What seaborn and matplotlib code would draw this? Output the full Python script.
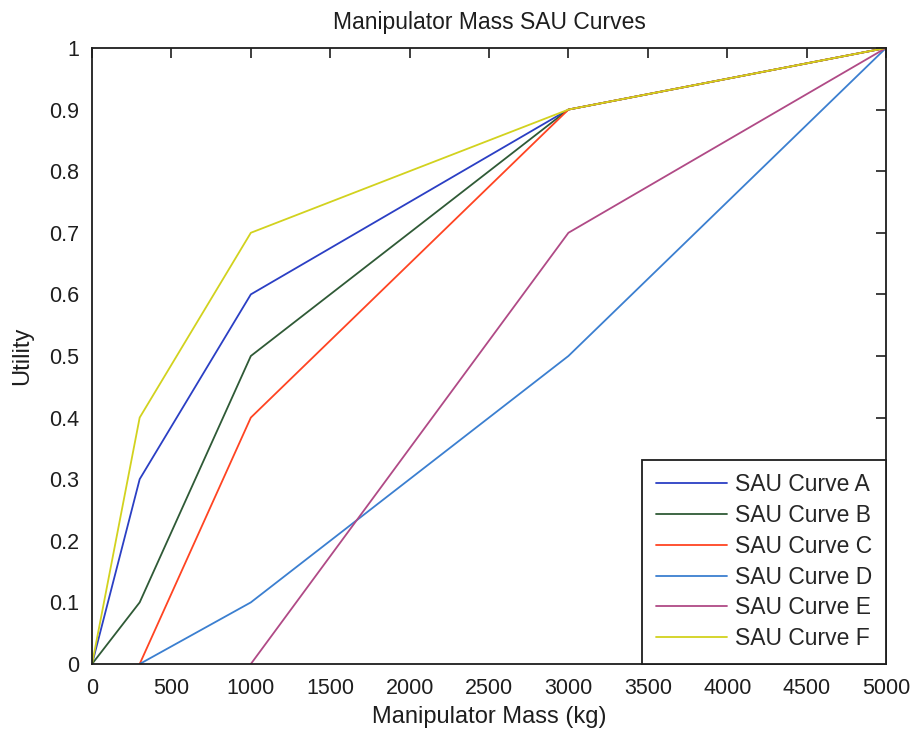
import matplotlib
matplotlib.use("Agg")
import matplotlib.pyplot as plt
import seaborn as sns
import pandas as pd

# Utility curves: breakpoints (mass in kg, utility)
mass_a = [0, 300, 1000, 3000, 5000]
util_a = [0, 0.3, 0.6, 0.9, 1.0]
mass_b = [0, 300, 1000, 3000, 5000]
util_b = [0, 0.1, 0.5, 0.9, 1.0]
mass_c = [300, 1000, 3000, 5000]
util_c = [0, 0.4, 0.9, 1.0]
mass_d = [300, 1000, 3000, 5000]
util_d = [0, 0.1, 0.5, 1.0]
mass_e = [1000, 3000, 5000]
util_e = [0, 0.7, 1.0]
mass_f = [0, 300, 1000, 3000, 5000]
util_f = [0, 0.4, 0.7, 0.9, 1.0]

curve_names = ["SAU Curve A", "SAU Curve B", "SAU Curve C",
               "SAU Curve D", "SAU Curve E", "SAU Curve F"]
curve_colors = ["#2b3fc4", "#2f5a36", "#ff4422", "#3b7fd0", "#b04a86", "#d2d21e"]

x_ticks = [0, 500, 1000, 1500, 2000, 2500, 3000, 3500, 4000, 4500, 5000]
y_ticks = [0, 0.1, 0.2, 0.3, 0.4, 0.5, 0.6, 0.7, 0.8, 0.9, 1]
y_tick_labels = ["0", "0.1", "0.2", "0.3", "0.4", "0.5", "0.6", "0.7", "0.8", "0.9", "1"]

frames = []
for name, xs, ys in zip(curve_names,
                        [mass_a, mass_b, mass_c, mass_d, mass_e, mass_f],
                        [util_a, util_b, util_c, util_d, util_e, util_f]):
    frames.append(pd.DataFrame({"mass": xs, "utility": ys, "curve": name}))
df = pd.concat(frames, ignore_index=True)

sns.set_style("white")
plt.rcParams["font.family"] = ["Liberation Sans", "DejaVu Sans"]

ink = "#1e1e1e"

fig = plt.figure(figsize=(9.14, 7.38), dpi=100)
ax = fig.add_axes([0.1007, 0.1003, 0.8687, 0.8347])

sns.lineplot(data=df, x="mass", y="utility", hue="curve",
             hue_order=curve_names, palette=curve_colors,
             sort=False, estimator=None, linewidth=1.3, ax=ax)

ax.set_xlim(0, 5000)
ax.set_ylim(0, 1)
ax.set_xticks(x_ticks)
ax.set_xticklabels([str(t) for t in x_ticks])
ax.set_yticks(y_ticks)
ax.set_yticklabels(y_tick_labels)
ax.tick_params(direction="in", length=7, width=1.2, top=True, right=True,
               labelsize=15.5, colors=ink)
ax.tick_params(axis="x", pad=10)
ax.tick_params(axis="y", pad=9)
for side in ax.spines.values():
    side.set_visible(True)
    side.set_color(ink)
    side.set_linewidth(1.3)

ax.set_xlabel("Manipulator Mass (kg)", fontsize=17, color=ink, labelpad=5)
ax.set_ylabel("Utility", fontsize=17, color=ink, labelpad=12)
ax.set_title("Manipulator Mass SAU Curves", fontsize=16.5, color=ink, pad=14)

leg = ax.legend(loc="lower right", fontsize=16.5, frameon=True, fancybox=False,
                borderaxespad=0, handlelength=3.1, handletextpad=0.35,
                labelspacing=0.34, borderpad=0.6)
leg.get_frame().set_edgecolor(ink)
leg.get_frame().set_linewidth(1.3)
leg.get_frame().set_alpha(1)
for line in leg.get_lines():
    line.set_linewidth(1.3)

fig.savefig("out.png", dpi=100, facecolor="white")
